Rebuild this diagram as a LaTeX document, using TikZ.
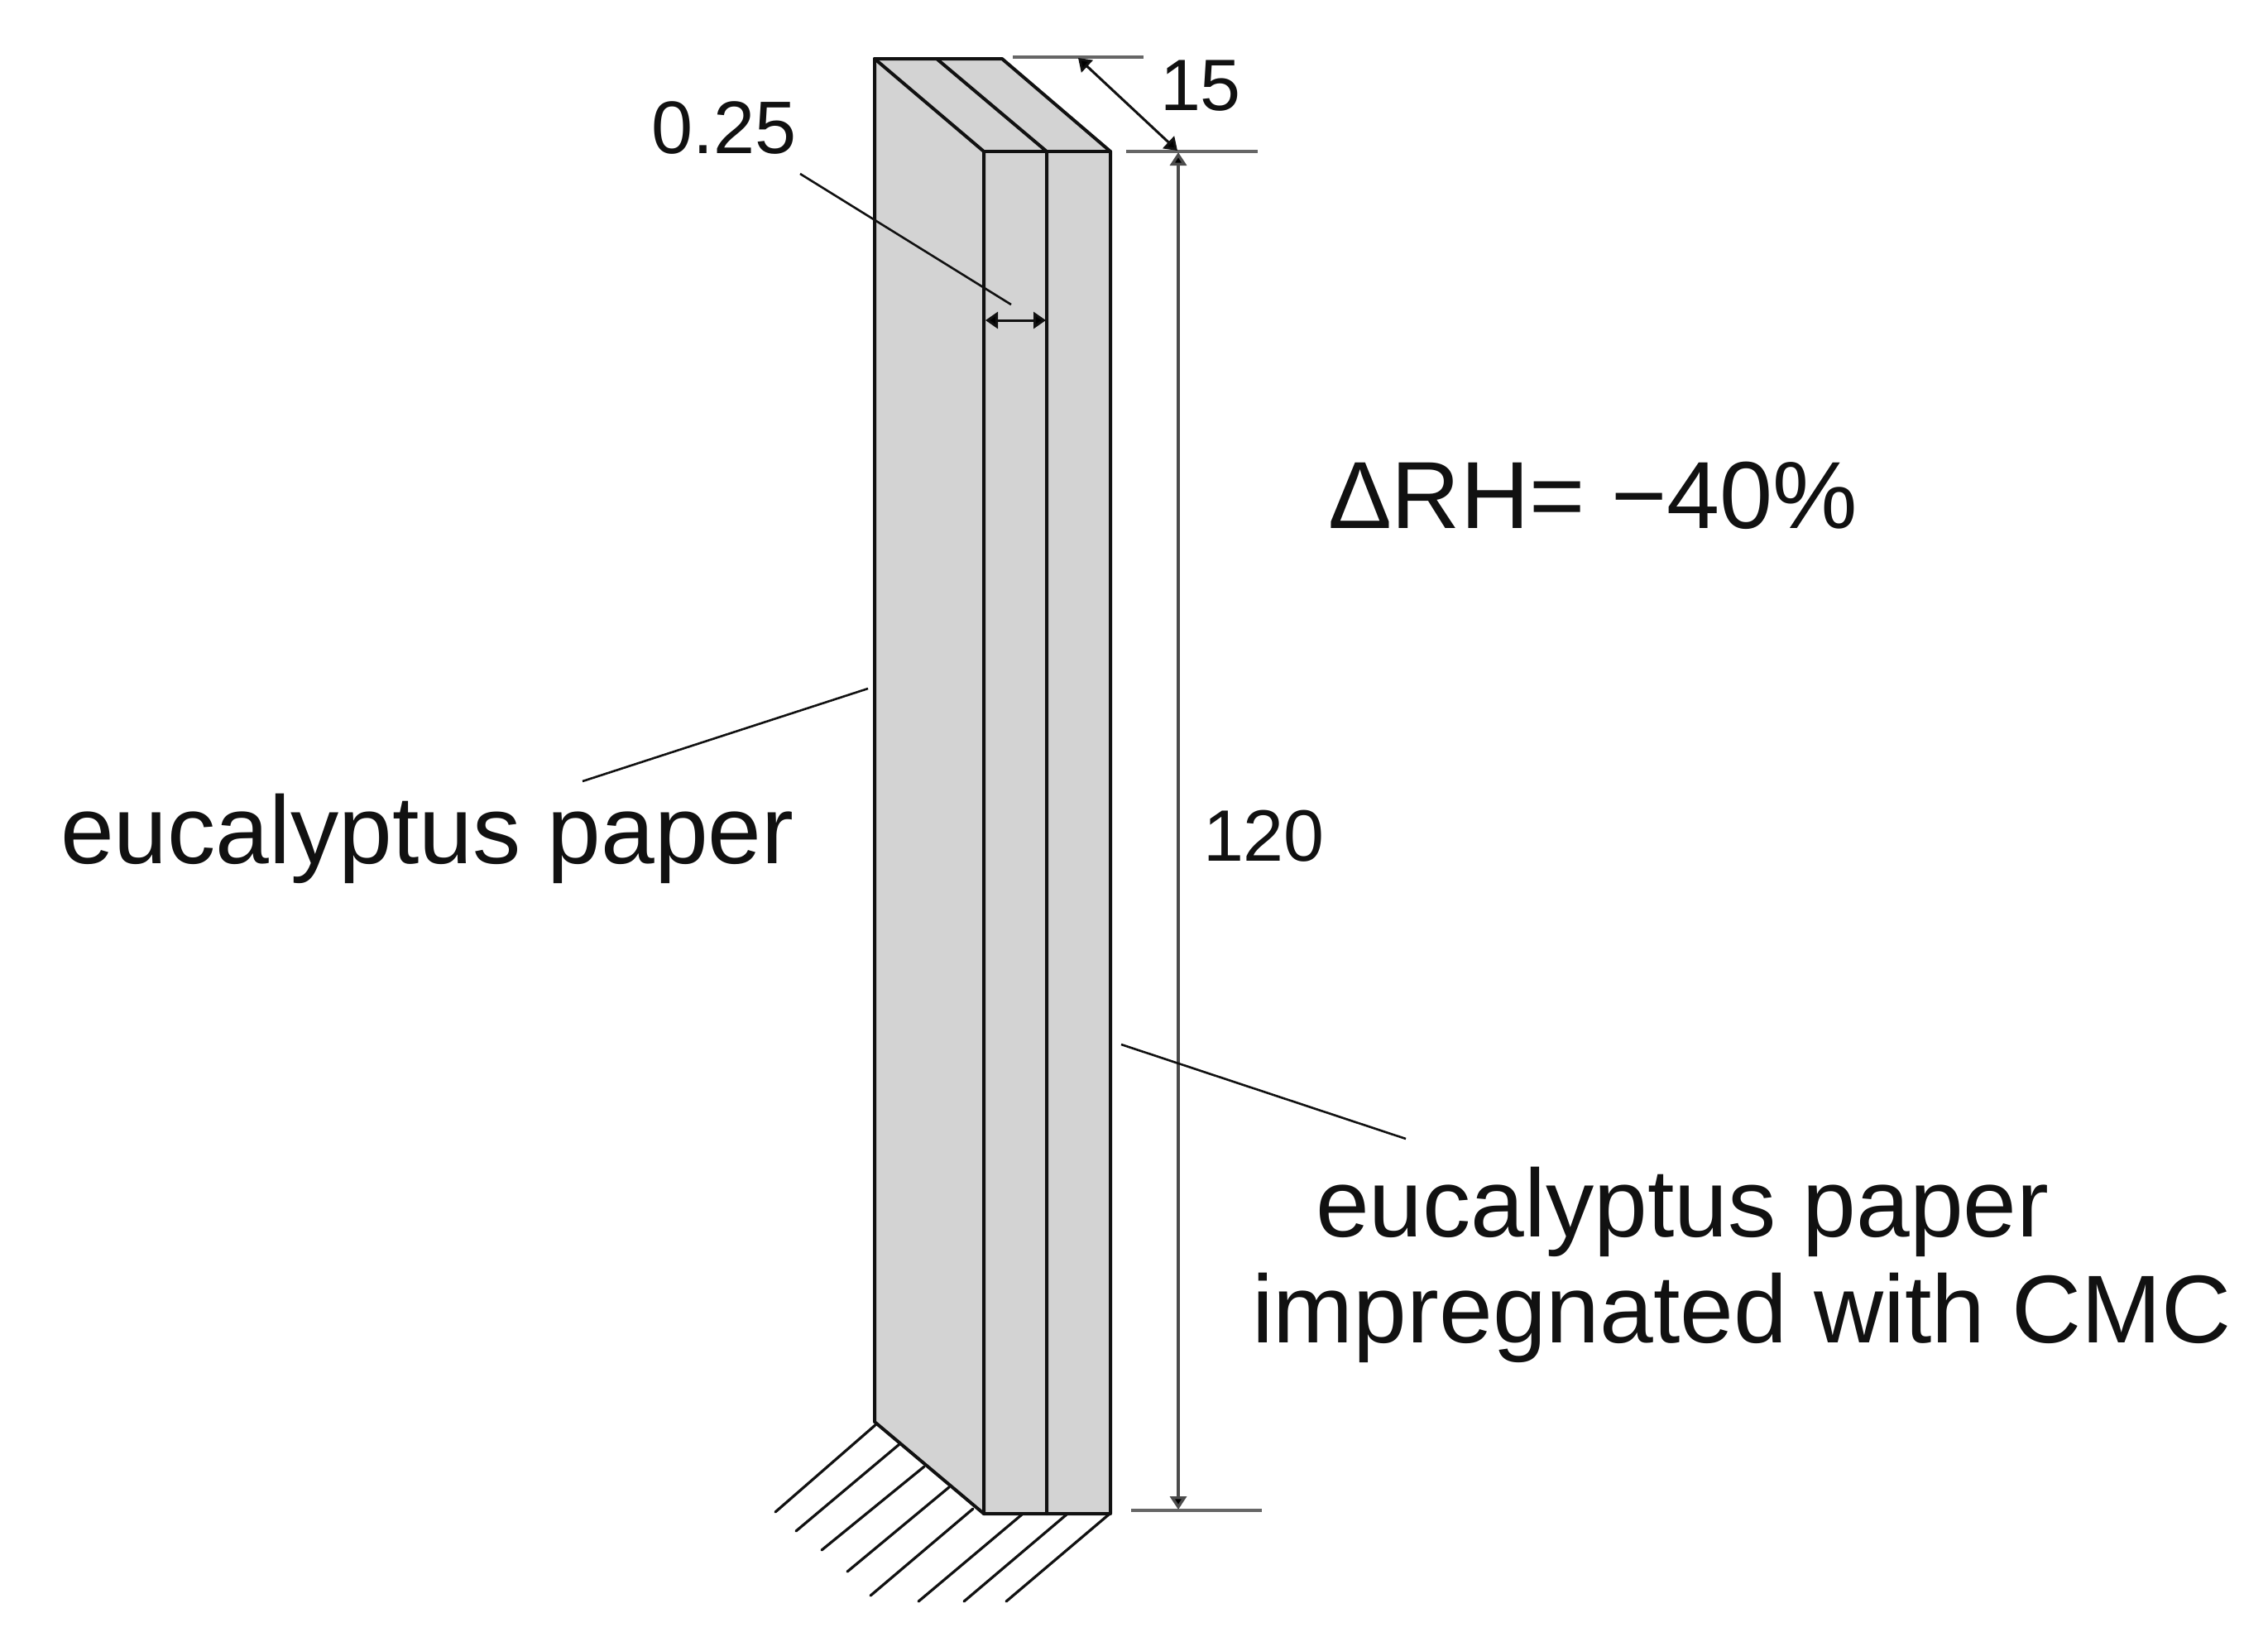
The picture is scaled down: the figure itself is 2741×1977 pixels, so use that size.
\documentclass[tikz,border=0pt]{standalone}
\usepackage{fontspec}
\setmainfont{Liberation Sans}
\usetikzlibrary{arrows.meta}
\definecolor{facegray}{HTML}{D3D3D3}
\definecolor{inkc}{HTML}{111111}
\tikzset{
  face/.style={fill=facegray,draw=none},
  edge/.style={draw=inkc,line width=2pt,line cap=round,line join=round},
  hatch/.style={draw=inkc,line width=1.6pt,line cap=round},
  leader/.style={draw=inkc,line width=1.3pt},
  extline/.style={draw=black!60,line width=1.7pt},
  dimline/.style={draw=black!70,line width=1.7pt,{Triangle[length=8pt,width=10pt,fill=black]}-{Triangle[length=8pt,width=10pt,fill=black]}},
  smalldim/.style={draw=inkc,line width=1.5pt,{Triangle[length=7.5pt,width=10pt,fill=black]}-{Triangle[length=7.5pt,width=10pt,fill=black]}},
  biglabel/.style={anchor=base west,inner sep=0pt,outer sep=0pt,font=\fontsize{58.2}{58.2}\selectfont,text=inkc},
  rhlabel/.style={anchor=base west,inner sep=0pt,outer sep=0pt,font=\fontsize{57.6}{57.6}\selectfont,text=inkc},
  numlabel/.style={anchor=base west,inner sep=0pt,outer sep=0pt,font=\fontsize{45}{45}\selectfont,text=inkc},
  dimlabel/.style={anchor=base west,inner sep=0pt,outer sep=0pt,font=\fontsize{44}{44}\selectfont,text=inkc},
}
\begin{document}
\begin{tikzpicture}[x=0.5pt,y=-0.5pt]
\useasboundingbox (0,0) rectangle (2741,1977);
\fill[white] (0,0) rectangle (2741,1977);
% corners
\coordinate (tl) at (1057,71);
\coordinate (tm) at (1132,71);
\coordinate (tr) at (1211,71);
\coordinate (fl) at (1189,183);
\coordinate (fm) at (1265,183);
\coordinate (fr) at (1342,183);
\coordinate (bl) at (1057,1718);
\coordinate (gl) at (1189,1829);
\coordinate (gm) at (1265,1829);
\coordinate (gr) at (1342,1829);
% faces
\path[face] (tl) -- (tr) -- (fr) -- (gr) -- (gl) -- (bl) -- cycle;
% edges
\draw[edge] (tl) -- (tr) -- (fr) -- (gr) -- (gl) -- (bl) -- cycle;
\draw[edge] (tl) -- (fl) -- (gl);
\draw[edge] (tm) -- (fm) -- (gm);
\draw[edge] (fl) -- (fr);
% hatching
\foreach \n/\ax/\ay/\bx/\by in {1/1060/1720/937/1827,2/1087/1745/962/1850,3/1117/1772/993/1873,4/1147/1797/1024/1899,5/1176/1823/1052/1928,6/1235/1830/1110/1935,7/1289/1830/1165/1935,8/1340/1830/1216/1935}{
  \coordinate (ha\n) at (\ax,\ay);
  \coordinate (hb\n) at (\bx,\by);
  \draw[hatch] (ha\n) -- (hb\n);
}
% extension lines
\coordinate (e1a) at (1224,69);
\coordinate (e1b) at (1382,69);
\coordinate (e2a) at (1361,183);
\coordinate (e2b) at (1520,183);
\coordinate (e3a) at (1367,1825);
\coordinate (e3b) at (1525,1825);
\draw[extline] (e1a) -- (e1b);
\draw[extline] (e2a) -- (e2b);
\draw[extline] (e3a) -- (e3b);
% dimensions
\coordinate (d15a) at (1303,70);
\coordinate (d15b) at (1423,182);
\coordinate (dva) at (1424,184);
\coordinate (dvb) at (1424,1824);
\coordinate (dsa) at (1191,387);
\coordinate (dsb) at (1264,387);
\draw[smalldim] (d15a) -- (d15b);
\draw[dimline] (dva) -- (dvb);
\draw[smalldim] (dsa) -- (dsb);
% labels
\node[numlabel] (l025) at (787,185) {0.25};
\node[dimlabel] (l15) at (1402,133) {15};
\node[dimlabel] (l120) at (1454,1040) {120};
\node[rhlabel] (lrh) at (1605,638) {ΔRH= −40\%};
\node[biglabel] (lpaper) at (73,1043) {eucalyptus paper};
\node[biglabel] (lcmca) at (1590,1494) {eucalyptus paper};
\node[biglabel] (lcmcb) at (1513,1622) {impregnated with CMC};
% leaders
\coordinate (la) at (967,210);
\coordinate (lb) at (1222,368);
\coordinate (lc) at (1049,832);
\coordinate (ld) at (704,944);
\coordinate (le) at (1355,1262);
\coordinate (lf) at (1699,1376);
\draw[leader] (la) -- (lb);
\draw[leader] (lc) -- (ld);
\draw[leader] (le) -- (lf);
\end{tikzpicture}
\end{document}
